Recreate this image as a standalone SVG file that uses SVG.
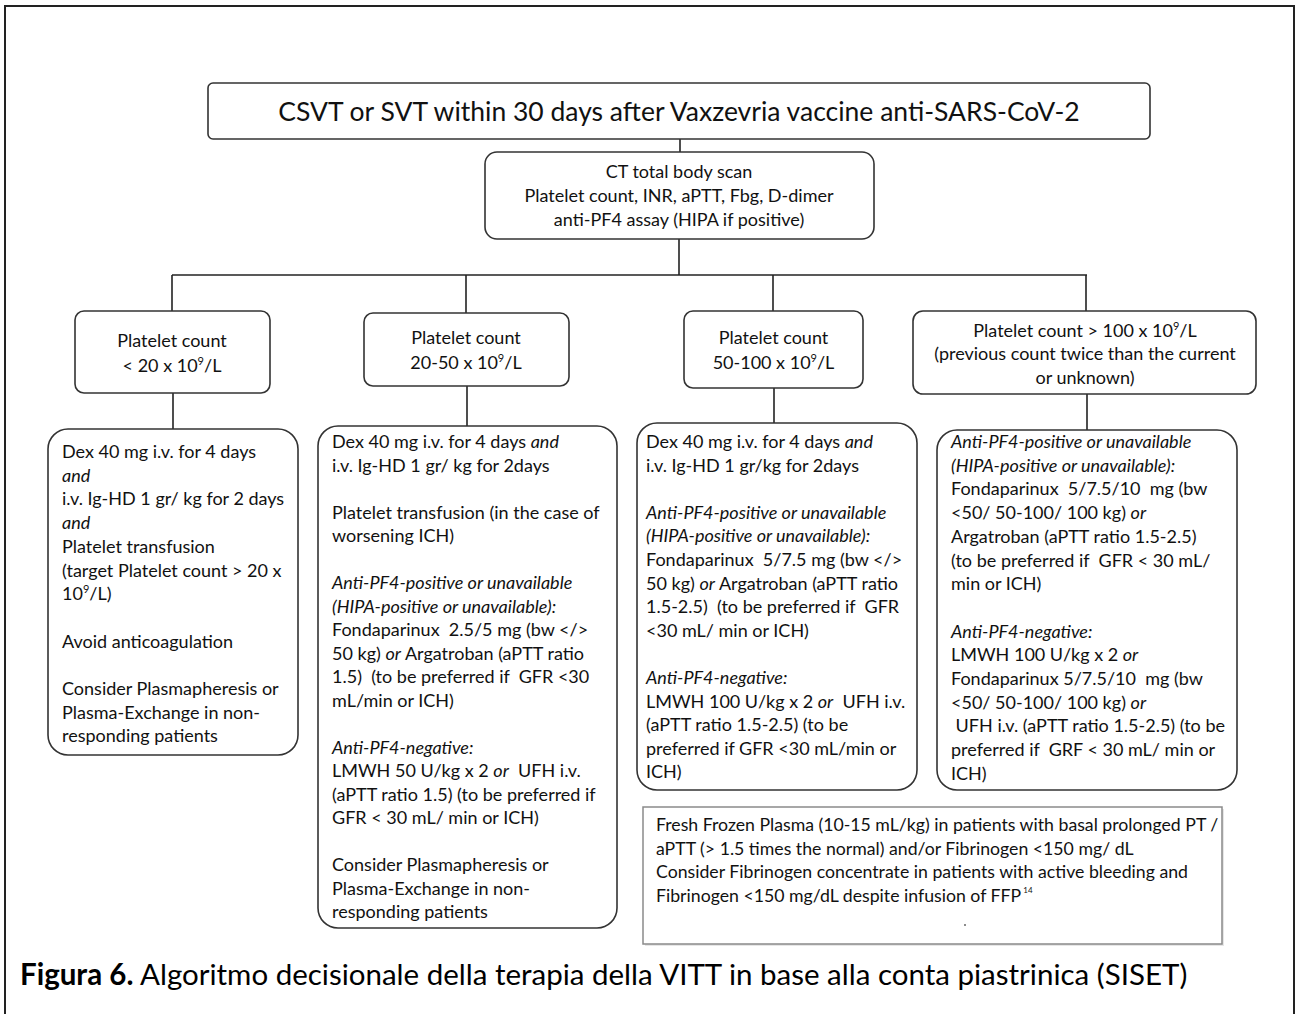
<svg xmlns="http://www.w3.org/2000/svg" width="1296" height="1014" viewBox="0 0 1296 1014">
<style>
.box{fill:#fff;stroke:#333;stroke-width:1.6}
.ffp{fill:#fff;stroke:#8a8a8a;stroke-width:1.5}
.t{font-family:Lato,"Liberation Sans",sans-serif;font-size:18px;fill:#111}
.c{text-anchor:middle}
.title{font-size:26.5px}
.small{font-size:17.7px}
.cap{font-family:Lato,"Liberation Sans",sans-serif;font-size:29.5px;fill:#000}
.i{font-style:italic}
.sup{font-size:11px}
.conn line{stroke:#222;stroke-width:1.6}
</style>
<path d="M5,1014 V6 H1294 V1014" fill="none" stroke="#222" stroke-width="2"/>
<g class="conn">
<line x1="680" y1="139" x2="680" y2="152"/>
<line x1="679" y1="239" x2="679" y2="275"/>
<line x1="172" y1="275" x2="1087" y2="275"/>
<line x1="172" y1="275" x2="172" y2="311"/>
<line x1="466" y1="275" x2="466" y2="313"/>
<line x1="773" y1="275" x2="773" y2="311"/>
<line x1="1086" y1="275" x2="1086" y2="311"/>
<line x1="173" y1="393" x2="173" y2="429"/>
<line x1="467" y1="386" x2="467" y2="426"/>
<line x1="774" y1="388" x2="774" y2="423"/>
<line x1="1087" y1="394" x2="1087" y2="430"/>
</g>
<g id="n-title">
<rect class="box" x="208" y="83" width="942" height="56" rx="5"/>
<text class="t c title" x="679" y="121">CSVT or SVT within 30 days after Vaxzevria vaccine anti-SARS-CoV-2</text>
</g>
<g id="n-ct">
<rect class="box" x="485" y="152" width="389" height="87" rx="12"/>
<text class="t c" x="679" y="178">CT total body scan</text>
<text class="t c" x="679" y="202">Platelet count, INR, aPTT, Fbg, D-dimer</text>
<text class="t c" x="679" y="226">anti-PF4 assay (HIPA if positive)</text>
</g>
<g id="n-p1">
<rect class="box" x="75" y="311" width="195" height="82" rx="9"/>
<text class="t c" x="172" y="347">Platelet count</text>
<text class="t c" x="172" y="372">&lt; 20 x 10<tspan class="sup" dy="-7">9</tspan><tspan dy="7">/L</tspan></text>
</g>
<g id="n-p2">
<rect class="box" x="364" y="313" width="205" height="73" rx="9"/>
<text class="t c" x="466" y="344">Platelet count</text>
<text class="t c" x="466" y="369">20-50 x 10<tspan class="sup" dy="-7">9</tspan><tspan dy="7">/L</tspan></text>
</g>
<g id="n-p3">
<rect class="box" x="684" y="311" width="179" height="77" rx="9"/>
<text class="t c" x="773.5" y="344">Platelet count</text>
<text class="t c" x="773.5" y="369">50-100 x 10<tspan class="sup" dy="-7">9</tspan><tspan dy="7">/L</tspan></text>
</g>
<g id="n-p4">
<rect class="box" x="913" y="311" width="343" height="83" rx="10"/>
<text class="t c" x="1085" y="337">Platelet count &gt; 100 x 10<tspan class="sup" dy="-7">9</tspan><tspan dy="7">/L</tspan></text>
<text class="t c" x="1085" y="360">(previous count twice than the current</text>
<text class="t c" x="1085" y="384">or unknown)</text>
</g>
<g id="n-t1">
<rect class="box" x="48" y="429" width="250" height="326" rx="20"/>
<text class="t" x="62" y="458">
<tspan x="62">Dex 40 mg i.v. for 4 days</tspan>
<tspan x="62" dy="23.7" class="i">and</tspan>
<tspan x="62" dy="23.7">i.v. Ig-HD 1 gr/ kg for 2 days</tspan>
<tspan x="62" dy="23.7" class="i">and</tspan>
<tspan x="62" dy="23.7">Platelet transfusion</tspan>
<tspan x="62" dy="23.7">(target Platelet count &gt; 20 x</tspan>
<tspan x="62" dy="23.7">10</tspan><tspan class="sup" dy="-7">9</tspan><tspan dy="7">/L)</tspan>
<tspan x="62" dy="47.4">Avoid anticoagulation</tspan>
<tspan x="62" dy="47.4">Consider Plasmapheresis or</tspan>
<tspan x="62" dy="23.7">Plasma-Exchange in non-</tspan>
<tspan x="62" dy="23.7">responding patients</tspan>
</text>
</g>
<g id="n-t2">
<rect class="box" x="318" y="426" width="299" height="502" rx="20"/>
<text class="t" x="332" y="448">
<tspan x="332">Dex 40 mg i.v. for 4 days <tspan class="i">and</tspan></tspan>
<tspan x="332" dy="23.5">i.v. Ig-HD 1 gr/ kg for 2days</tspan>
<tspan x="332" dy="47">Platelet transfusion (in the case of</tspan>
<tspan x="332" dy="23.5">worsening ICH)</tspan>
<tspan x="332" dy="47" class="i">Anti-PF4-positive or unavailable</tspan>
<tspan x="332" dy="23.5" class="i">(HIPA-positive or unavailable):</tspan>
<tspan x="332" dy="23.5">Fondaparinux &#160;2.5/5 mg (bw &lt;/&gt;</tspan>
<tspan x="332" dy="23.5">50 kg) <tspan class="i">or</tspan> Argatroban (aPTT ratio</tspan>
<tspan x="332" dy="23.5">1.5) &#160;(to be preferred if &#160;GFR &lt;30</tspan>
<tspan x="332" dy="23.5">mL/min or ICH)</tspan>
<tspan x="332" dy="47" class="i">Anti-PF4-negative:</tspan>
<tspan x="332" dy="23.5">LMWH 50 U/kg x 2 <tspan class="i">or</tspan> &#160;UFH i.v.</tspan>
<tspan x="332" dy="23.5">(aPTT ratio 1.5) (to be preferred if</tspan>
<tspan x="332" dy="23.5">GFR &lt; 30 mL/ min or ICH)</tspan>
<tspan x="332" dy="47">Consider Plasmapheresis or</tspan>
<tspan x="332" dy="23.5">Plasma-Exchange in non-</tspan>
<tspan x="332" dy="23.5">responding patients</tspan>
</text>
</g>
<g id="n-t3">
<rect class="box" x="637" y="423" width="280" height="367" rx="20"/>
<text class="t" x="646" y="448">
<tspan x="646">Dex 40 mg i.v. for 4 days <tspan class="i">and</tspan></tspan>
<tspan x="646" dy="23.6">i.v. Ig-HD 1 gr/kg for 2days</tspan>
<tspan x="646" dy="47.2" class="i">Anti-PF4-positive or unavailable</tspan>
<tspan x="646" dy="23.6" class="i">(HIPA-positive or unavailable):</tspan>
<tspan x="646" dy="23.6">Fondaparinux &#160;5/7.5 mg (bw &lt;/&gt;</tspan>
<tspan x="646" dy="23.6">50 kg) <tspan class="i">or</tspan> Argatroban (aPTT ratio</tspan>
<tspan x="646" dy="23.6">1.5-2.5) &#160;(to be preferred if &#160;GFR</tspan>
<tspan x="646" dy="23.6">&lt;30 mL/ min or ICH)</tspan>
<tspan x="646" dy="47.2" class="i">Anti-PF4-negative:</tspan>
<tspan x="646" dy="23.6">LMWH 100 U/kg x 2 <tspan class="i">or</tspan> &#160;UFH i.v.</tspan>
<tspan x="646" dy="23.6">(aPTT ratio 1.5-2.5) (to be</tspan>
<tspan x="646" dy="23.6">preferred if GFR &lt;30 mL/min or</tspan>
<tspan x="646" dy="23.6">ICH)</tspan>
</text>
</g>
<g id="n-t4">
<rect class="box" x="937" y="430" width="300" height="360" rx="20"/>
<text class="t" x="951" y="448">
<tspan x="951" class="i">Anti-PF4-positive or unavailable</tspan>
<tspan x="951" dy="23.7" class="i">(HIPA-positive or unavailable):</tspan>
<tspan x="951" dy="23.7">Fondaparinux &#160;5/7.5/10 &#160;mg (bw</tspan>
<tspan x="951" dy="23.7">&lt;50/ 50-100/ 100 kg) <tspan class="i">or</tspan></tspan>
<tspan x="951" dy="23.7">Argatroban (aPTT ratio 1.5-2.5)</tspan>
<tspan x="951" dy="23.7">(to be preferred if &#160;GFR &lt; 30 mL/</tspan>
<tspan x="951" dy="23.7">min or ICH)</tspan>
<tspan x="951" dy="47.4" class="i">Anti-PF4-negative:</tspan>
<tspan x="951" dy="23.7">LMWH 100 U/kg x 2 <tspan class="i">or</tspan></tspan>
<tspan x="951" dy="23.7">Fondaparinux 5/7.5/10 &#160;mg (bw</tspan>
<tspan x="951" dy="23.7">&lt;50/ 50-100/ 100 kg) <tspan class="i">or</tspan></tspan>
<tspan x="951" dy="23.7">&#160;UFH i.v. (aPTT ratio 1.5-2.5) (to be</tspan>
<tspan x="951" dy="23.7">preferred if &#160;GRF &lt; 30 mL/ min or</tspan>
<tspan x="951" dy="23.7">ICH)</tspan>
</text>
</g>
<g id="n-ffp">
<rect x="645" y="809" width="579" height="137" fill="#e6e6e6"/>
<rect class="ffp" x="643" y="807" width="579" height="137"/>
<text class="t small" x="656" y="831">
<tspan x="656">Fresh Frozen Plasma (10-15 mL/kg) in patients with basal prolonged PT /</tspan>
<tspan x="656" dy="23.5">aPTT (&gt; 1.5 times the normal) and/or Fibrinogen &lt;150 mg/ dL</tspan>
<tspan x="656" dy="23.5">Consider Fibrinogen concentrate in patients with active bleeding and</tspan>
<tspan x="656" dy="23.5">Fibrinogen &lt;150 mg/dL despite infusion of FFP</tspan><tspan font-size="8" dy="-9"> 14</tspan>
</text>
<circle cx="965" cy="925" r="1" fill="#666"/>
</g>
<text class="cap" x="20" y="985"><tspan font-weight="bold">Figura 6.</tspan> Algoritmo decisionale della terapia della VITT in base alla conta piastrinica (SISET)</text>
</svg>
